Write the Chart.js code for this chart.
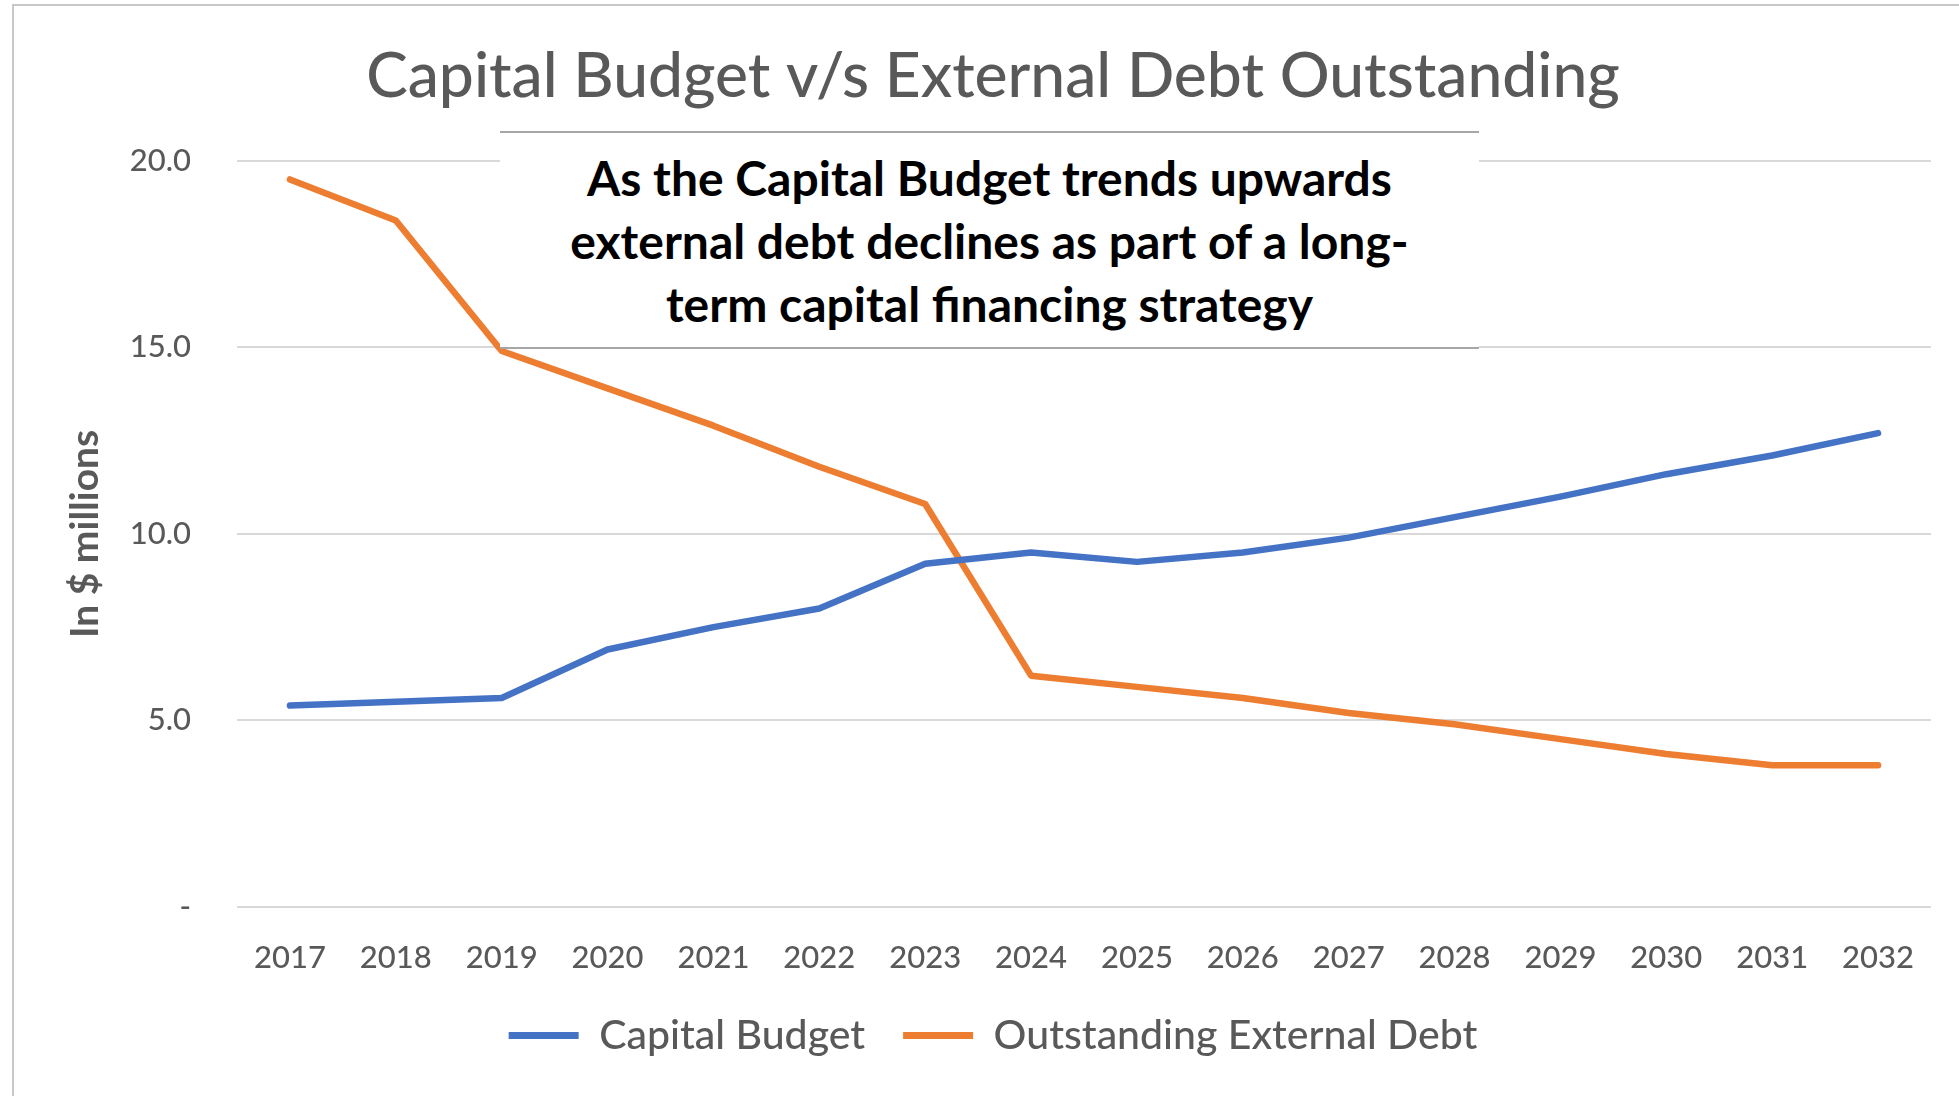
<!DOCTYPE html>
<html>
<head>
<meta charset="utf-8">
<title>Capital Budget v/s External Debt Outstanding</title>
<script src="https://cdn.jsdelivr.net/npm/chart.js@4.4.1/dist/chart.umd.min.js"></script>
<style>
    html, body { margin: 0; padding: 0; background: #ffffff; }
    #wrap { position: relative; width: 1959px; height: 1096px; overflow: hidden; }
    #frame {
        position: absolute; left: 12px; top: 4px; right: -10px; bottom: -10px;
        border-left: 2px solid #c8c8c8; border-top: 2px solid #c8c8c8;
        pointer-events: none;
    }
    #note {
        position: absolute; left: 500px; top: 131px; width: 979px; height: 218px;
        background: #ffffff;
        border-top: 2px solid #a6a6a6; border-bottom: 2px solid #a6a6a6;
        box-sizing: border-box;
        display: flex; align-items: center; justify-content: center;
        font-family: Lato, "Open Sans", sans-serif; font-weight: bold;
        font-size: 48px; line-height: 63px; color: #000000; text-align: center;
    }
</style>
</head>
<body>
<div id="wrap">
    <canvas id="debtChart" width="1959" height="1096"></canvas>
    <div id="frame"></div>
    <div id="note">As the Capital Budget trends upwards<br>external debt declines as part of a long-<br>term capital financing strategy</div>
</div>
<script>
const years = ['2017', '2018', '2019', '2020', '2021', '2022', '2023', '2024',
               '2025', '2026', '2027', '2028', '2029', '2030', '2031', '2032'];

// $ millions
const capitalBudget = [5.4, 5.5, 5.6, 6.9, 7.5, 8.0, 9.2, 9.5,
                       9.25, 9.5, 9.9, 10.45, 11.0, 11.6, 12.1, 12.7];
const externalDebt = [19.5, 18.4, 14.9, 13.9, 12.9, 11.8, 10.8, 6.2,
                      5.9, 5.6, 5.2, 4.9, 4.5, 4.1, 3.8, 3.8];

const yTickLabels = ['-', '5.0', '10.0', '15.0', '20.0'];

const grey = '#595959';
const fontFamily = 'Lato, "Open Sans", sans-serif';

const ctx = document.getElementById('debtChart').getContext('2d');

new Chart(ctx, {
    type: 'line',
    data: {
        labels: years,
        datasets: [
            {
                label: 'Capital Budget',
                data: capitalBudget,
                borderColor: '#4472c4',
                backgroundColor: '#4472c4',
                borderWidth: 6.5,
                borderCapStyle: 'round',
                borderJoinStyle: 'round',
                pointRadius: 0,
                tension: 0
            },
            {
                label: 'Outstanding External Debt',
                data: externalDebt,
                borderColor: '#ed7d31',
                backgroundColor: '#ed7d31',
                borderWidth: 6.5,
                borderCapStyle: 'round',
                borderJoinStyle: 'round',
                pointRadius: 0,
                tension: 0
            }
        ]
    },
    options: {
        responsive: false,
        animation: false,
        layout: { padding: { left: 55, right: 28, top: 0, bottom: 30 } },
        plugins: {
            tooltip: { enabled: false },
            title: {
                display: true,
                text: 'Capital Budget v/s External Debt Outstanding',
                color: grey,
                font: { family: fontFamily, size: 62.3, weight: 500 },
                padding: { top: 40, bottom: 46 }
            },
            legend: {
                position: 'bottom',
                labels: {
                    color: grey,
                    font: { family: fontFamily, size: 41, weight: 500 },
                    boxWidth: 70,
                    boxHeight: 7,
                    padding: 38,
                    generateLabels: function (chart) {
                        // flat line-like swatches, no outline
                        return Chart.defaults.plugins.legend.labels.generateLabels(chart)
                            .map(item => Object.assign(item, { lineWidth: 0 }));
                    }
                }
            }
        },
        scales: {
            x: {
                offset: true,
                afterFit: function (axis) { axis.height = 70; },
                grid: { display: false, drawTicks: false },
                border: { display: false },
                ticks: {
                    color: grey,
                    font: { family: fontFamily, size: 31, weight: 500 },
                    padding: 32,
                    maxRotation: 0,
                    autoSkip: false
                }
            },
            y: {
                min: 0,
                max: 20,
                afterFit: function (axis) { axis.width = 182; },
                grid: { color: '#d9d9d9', lineWidth: 2, drawTicks: false },
                border: { display: false },
                ticks: {
                    stepSize: 5,
                    color: grey,
                    font: { family: fontFamily, size: 31, weight: 500 },
                    padding: 46,
                    callback: function (value, index) { return yTickLabels[index]; }
                },
                title: {
                    display: true,
                    text: 'In $ millions',
                    color: grey,
                    font: { family: fontFamily, size: 39, weight: 'bold' },
                    padding: { top: 7, bottom: 0 }
                }
            }
        }
    }
});
</script>
</body>
</html>
